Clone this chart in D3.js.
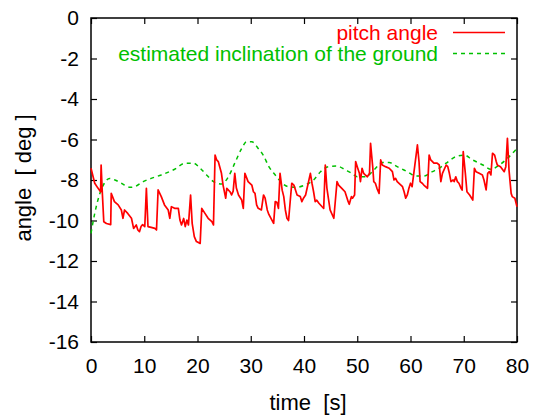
<!DOCTYPE html>
<html>
<head>
<meta charset="utf-8">
<script src="https://cdn.jsdelivr.net/npm/d3@7"></script>
<style>
  body { margin: 0; background: #fff; }
  text { font-family: "Liberation Sans", Arial, sans-serif; font-size: 21px; white-space: pre; }
</style>
</head>
<body>
<div id="chart"></div>
<script>
// pitch angle samples (time in s, angle in deg)
const pitchTime = [0, 0.7, 1.3, 1.8, 1.9, 2.1, 2.4, 2.9, 3.7, 3.8, 4.4, 5.1, 5.7, 6.0, 6.3, 6.9, 7.6, 8.0, 8.5, 8.8,
    9.1, 9.4, 9.7, 10.1, 10.4, 10.7, 11.3, 12.0, 12.3, 12.6, 13.2, 13.8, 14.5, 14.8, 15.1, 15.7, 16.4, 16.7, 17.0, 17.4,
    17.7, 18.0, 18.3, 18.7, 19.0, 19.4, 19.8, 20.5, 20.8, 21.4, 22.0, 22.7, 23.0, 23.3, 23.6, 23.9, 24.5, 24.8, 25.3, 25.5,
    26.1, 26.4, 26.7, 27.0, 27.3, 27.7, 28.3, 28.6, 28.9, 29.5, 30.2, 30.5, 30.8, 31.1, 31.4, 32.0, 32.4, 32.7, 33.1, 33.4,
    33.8, 34.3, 34.6, 34.9, 35.2, 35.5, 35.9, 36.2, 36.5, 36.8, 37.1, 37.7, 38.1, 38.7, 39.3, 39.6, 39.9, 40.3, 41.2, 41.5,
    41.8, 42.1, 42.4, 42.8, 43.4, 43.7, 44.0, 44.3, 44.9, 45.6, 46.2, 46.5, 47.1, 47.7, 48.3, 48.5, 48.9, 49.1, 49.5, 49.7,
    50.0, 50.4, 50.6, 50.9, 51.2, 51.5, 51.9, 52.3, 52.5, 52.9, 53.1, 53.4, 53.7, 54.1, 54.4, 54.7, 55.3, 56.0, 56.6, 56.9,
    57.2, 57.5, 58.2, 58.5, 58.8, 59.1, 59.4, 59.7, 60.0, 60.3, 61.3, 61.6, 61.8, 62.2, 62.5, 63.2, 63.5, 63.8, 64.4, 65.0,
    65.4, 65.7, 66.0, 66.7, 67.0, 67.3, 67.6, 68.0, 68.2, 68.5, 68.8, 69.1, 69.5, 69.7, 69.9, 70.3, 70.6, 71.1, 71.7, 72.0,
    72.3, 72.9, 73.5, 73.8, 74.2, 74.5, 74.8, 75.1, 75.4, 75.8, 76.1, 76.3, 76.9, 77.6, 77.9, 78.2, 78.5, 78.9, 79.1, 79.6, 80.0];
const pitchAngle = [-7.42, -8.16, -8.4, -8.58, -7.26, -8.5, -10.06, -10.15, -10.2, -8.66, -9.07, -9.23, -9.48, -9.89, -9.48, -9.65, -9.89, -10.39, -10.22, -10.47,
    -10.55, -10.3, -10.2, -10.3, -8.41, -10.3, -10.34, -10.39, -10.47, -8.49, -8.82, -9.23, -9.48, -9.89, -9.32, -9.4, -9.4, -9.98, -10.22, -9.9,
    -10.3, -9.98, -10.22, -8.74, -10.14, -10.8, -11.04, -11.13, -9.4, -9.65, -9.89, -10.06, -10.22, -6.77, -7.01, -7.09, -7.67, -8.25, -8.9, -8.41,
    -8.58, -8.74, -8.55, -7.67, -8.4, -8.74, -8.99, -9.4, -7.67, -8.08, -8.25, -8.58, -8.66, -9.23, -9.4, -9.48, -8.74, -8.9, -9.48, -9.7,
    -9.9, -10.14, -9.07, -9.1, -9.4, -7.67, -8.5, -8.82, -9.48, -9.89, -10.0, -8.16, -8.25, -8.74, -8.82, -9.07, -8.9, -8.74, -7.67, -8.16,
    -8.58, -9.07, -9.0, -9.15, -9.32, -9.4, -7.26, -8.4, -9.48, -9.89, -8.08, -8.25, -8.41, -8.58, -9.07, -9.2, -8.82, -8.9, -8.74, -7.09,
    -7.34, -7.67, -8.08, -7.42, -7.67, -7.75, -7.84, -7.67, -6.19, -7.34, -8.08, -8.16, -8.41, -8.66, -7.01, -7.26, -7.34, -7.42, -7.59, -8.0,
    -7.92, -8.08, -8.25, -8.33, -8.58, -8.9, -8.74, -8.41, -8.16, -8.33, -6.27, -7.09, -8.08, -8.16, -8.25, -8.41, -6.77, -7.01, -7.17, -7.17,
    -7.26, -8.08, -7.67, -7.26, -7.34, -7.67, -8.08, -8.0, -8.08, -7.84, -8.08, -8.16, -8.41, -8.5, -6.6, -7.67, -8.58, -8.74, -8.99, -7.42,
    -7.59, -7.67, -7.75, -8.0, -8.49, -7.67, -7.59, -7.75, -6.68, -6.77, -7.09, -7.26, -7.34, -7.59, -7.34, -5.94, -7.51, -8.66, -8.82, -8.9, -9.32];

// estimated inclination of the ground
const groundTime = [0, 0.7, 1.3, 1.9, 2.5, 3.5, 4.5, 5.7, 7.3, 8.2, 9.8, 11.3, 13.2, 15.7, 17.7, 19.2, 20.5, 21.7, 23.0, 24.5,
    25.8, 27.0, 28.3, 29.2, 30.2, 31.4, 32.4, 33.4, 34.6, 35.9, 37.1, 38.4, 40.2, 41.8, 43.1, 44.6, 46.2, 47.8, 49.0, 50.0,
    51.6, 53.1, 54.7, 56.0, 57.5, 59.4, 61.0, 62.5, 64.1, 65.4, 66.7, 68.5, 70.1, 71.6, 73.6, 75.1, 76.7, 78.2, 80.0];
const groundAngle = [-10.63, -9.65, -8.99, -8.49, -8.16, -7.92, -8.0, -8.16, -8.36, -8.33, -8.08, -7.92, -7.75, -7.47, -7.17, -7.17, -7.42, -7.75, -8.08, -8.2,
    -7.84, -7.17, -6.44, -6.11, -6.11, -6.44, -6.8, -7.34, -7.75, -8.16, -8.33, -8.36, -8.25, -8.0, -7.59, -7.34, -7.31, -7.51, -7.67, -7.84,
    -7.84, -7.51, -7.14, -7.14, -7.34, -7.59, -7.8, -7.8, -7.59, -7.42, -7.17, -6.85, -6.77, -7.0, -7.26, -7.47, -7.26, -6.93, -6.44];

const xTicks = [0, 10, 20, 30, 40, 50, 60, 70, 80];
const yTicks = [0, -2, -4, -6, -8, -10, -12, -14, -16];
const seriesNames = ["pitch angle", "estimated inclination of the ground"];

const W = 534, H = 416;
const margin = {top: 18, right: 17, bottom: 74, left: 91},
    width = W - margin.left - margin.right,
    height = H - margin.top - margin.bottom;

const svg = d3.select("#chart")
    .append("svg")
    .attr("width", W)
    .attr("height", H)
    .append("g")
    .attr("transform", `translate(${margin.left},${margin.top})`);

const x = d3.scaleLinear().domain([0, 80]).range([0, width]);
const y = d3.scaleLinear().domain([-16, 0]).range([height, 0]);

const tickLen = 6;
const plain = d => String(d); // plain hyphen minus, like the original

// axes with inward ticks (gnuplot look)
svg.append("g")
    .attr("transform", `translate(0,${height})`)
    .call(d3.axisBottom(x).tickValues(xTicks).tickFormat(plain).tickSizeInner(-tickLen).tickSizeOuter(0).tickPadding(tickLen + 10))
    .call(g => g.select(".domain").remove());
svg.append("g")
    .call(d3.axisTop(x).tickValues(xTicks).tickSizeInner(-tickLen).tickSizeOuter(0).tickFormat(""))
    .call(g => g.select(".domain").remove());
svg.append("g")
    .call(d3.axisLeft(y).tickValues(yTicks).tickFormat(plain).tickSizeInner(-tickLen).tickSizeOuter(0).tickPadding(tickLen + 6))
    .call(g => g.select(".domain").remove());
svg.append("g")
    .attr("transform", `translate(${width},0)`)
    .call(d3.axisRight(y).tickValues(yTicks).tickSizeInner(-tickLen).tickSizeOuter(0).tickFormat(""))
    .call(g => g.select(".domain").remove());

svg.selectAll(".tick line").attr("stroke", "#000").attr("stroke-width", 1.2);
svg.selectAll(".tick text")
    .attr("fill", "#000")
    .style("font-size", "21px")
    .style("font-family", "'Liberation Sans', Arial, sans-serif");

// frame
svg.append("rect")
    .attr("width", width)
    .attr("height", height)
    .attr("fill", "none")
    .attr("stroke", "#000")
    .attr("stroke-width", 1.5);

const line = d3.line()
    .x(d => x(d[0]))
    .y(d => y(d[1]));

svg.append("path")
    .datum(groundTime.map((t, i) => [t, groundAngle[i]]))
    .attr("fill", "none")
    .attr("stroke", "#00c000")
    .attr("stroke-width", 1.5)
    .attr("stroke-dasharray", "4,4")
    .attr("d", line.curve(d3.curveMonotoneX));

svg.append("path")
    .datum(pitchTime.map((t, i) => [t, pitchAngle[i]]))
    .attr("fill", "none")
    .attr("stroke", "#ff0000")
    .attr("stroke-width", 1.7)
    .attr("stroke-linejoin", "round")
    .attr("d", line.curve(d3.curveLinear));

// legend
const legendColors = ["#ff0000", "#00c000"];
const legendDash = [null, "4,4"];
seriesNames.forEach((name, i) => {
    const ly = 14.5 + i * 21;
    svg.append("text")
        .attr("x", 347)
        .attr("y", ly + 7.5)
        .attr("text-anchor", "end")
        .attr("fill", legendColors[i])
        .text(name);
    svg.append("line")
        .attr("x1", 362).attr("x2", 414)
        .attr("y1", ly).attr("y2", ly)
        .attr("stroke", legendColors[i])
        .attr("stroke-width", 1.5)
        .attr("stroke-dasharray", legendDash[i]);
});

// axis labels
svg.append("text")
    .attr("x", width / 2 + 4)
    .attr("y", height + 68)
    .attr("text-anchor", "middle")
    .style("font-size", "22px")
    .text("time  [s]");

svg.append("text")
    .attr("transform", "rotate(-90)")
    .attr("x", -(178 - margin.top))
    .attr("y", -margin.left + 31)
    .attr("text-anchor", "middle")
    .style("font-size", "22px")
    .text("angle  [ deg ]");
</script>
</body>
</html>
